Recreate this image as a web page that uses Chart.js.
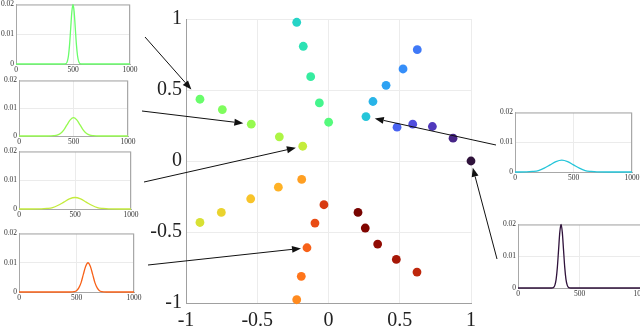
<!DOCTYPE html>
<html>
<head>
<meta charset="utf-8">
<script src="https://cdn.jsdelivr.net/npm/chart.js@4.4.1/dist/chart.umd.min.js"></script>
<style>
  html, body { margin: 0; padding: 0; background: #fff; width: 640px; height: 328px; overflow: hidden; position: relative; }
  canvas { position: absolute; }
</style>
</head>
<body>
<canvas id="main" width="640" height="328" style="left:0;top:0"></canvas>
<script>
// main scatter points, in colour order
const pointX = [1.000, 0.874, 0.729, 0.591, 0.481,
  0.623, 0.523, 0.404, 0.312, 0.263,
  -0.223, -0.177, -0.125, -0.064, 0.001,
  -0.902, -0.745, -0.542, -0.345, -0.181,
  -0.902, -0.752, -0.546, -0.352, -0.188,
  -0.223, -0.191, -0.151, -0.095, -0.032,
  0.621, 0.476, 0.345, 0.258, 0.207]
const pointY = [0.000, 0.161, 0.243, 0.259, 0.238,
  0.784, 0.648, 0.533, 0.419, 0.313,
  0.977, 0.808, 0.594, 0.409, 0.273,
  0.435, 0.362, 0.259, 0.170, 0.104,
  -0.433, -0.362, -0.266, -0.184, -0.130,
  -0.977, -0.812, -0.611, -0.437, -0.308,
  -0.782, -0.693, -0.585, -0.472, -0.362]
const mainTicks = [-1, -0.5, 0, 0.5, 1]

// inset curves
const insetXTicks = [0, 500, 1000]
const insetYTicks = [0, 0.01, 0.02]
const curve1X = [0, 420, 440, 450, 460, 470, 480, 490, 500, 510, 520, 530, 540, 550, 560, 580, 1000]
const curve1Y = [0, 0, 0.0002, 0.0009, 0.0027, 0.0065, 0.0121, 0.0176, 0.0200, 0.0176, 0.0121, 0.0065, 0.0027, 0.0009, 0.0002, 0, 0]
const curve2X = [0, 260, 320, 350, 380, 410, 440, 470, 500, 530, 560, 590, 620, 650, 680, 740, 1000]
const curve2Y = [0, 0, 0.0001, 0.0003, 0.0009, 0.0021, 0.0040, 0.0058, 0.0066, 0.0058, 0.0040, 0.0021, 0.0009, 0.0003, 0.0001, 0, 0]
const curve3X = [0, 100, 200, 250, 300, 350, 400, 450, 500, 550, 600, 650, 700, 750, 800, 900, 1000]
const curve3Y = [0, 0, 0.00004, 0.0002, 0.0005, 0.0013, 0.0024, 0.0035, 0.0040, 0.0035, 0.0024, 0.0013, 0.0005, 0.0002, 0.00004, 0, 0]
const curve4X = [0, 440, 480, 500, 520, 540, 560, 580, 600, 620, 640, 660, 680, 700, 720, 760, 1000]
const curve4Y = [0, 0, 0.0001, 0.0004, 0.0014, 0.0032, 0.0061, 0.0088, 0.0100, 0.0088, 0.0061, 0.0032, 0.0014, 0.0004, 0.0001, 0, 0]
const curve5X = [0, 100, 150, 200, 250, 300, 350, 400, 450, 500, 550, 600, 650, 700, 800, 1000]
const curve5Y = [0, 0.00004, 0.0002, 0.0005, 0.0013, 0.0024, 0.0035, 0.0040, 0.0035, 0.0024, 0.0013, 0.0005, 0.0002, 0.00004, 0, 0]
const curve6X = [0, 270, 290, 300, 310, 320, 330, 340, 350, 360, 370, 380, 390, 400, 410, 430, 1000]
const curve6Y = [0, 0, 0.0002, 0.0009, 0.0027, 0.0065, 0.0121, 0.0176, 0.0200, 0.0176, 0.0121, 0.0065, 0.0027, 0.0009, 0.0002, 0, 0]

Chart.defaults.font.family = "'Liberation Serif', serif"

// turbo colormap (polynomial approximation, ends pulled toward the real turbo ends)
function turbo(t) {
  let r = 0.13572138 + t * (4.61539260 + t * (-42.66032258 + t * (132.13108234 + t * (-152.94239396 + t * 59.28637943))))
  let g = 0.09140261 + t * (2.19418839 + t * (4.84296658 + t * (-14.18503333 + t * (4.27729857 + t * 2.82956604))))
  let b = 0.10667330 + t * (12.64194608 + t * (-60.58204836 + t * (110.36276771 + t * (-89.90310912 + t * 27.34824973))))
  if (t < 0.15) {
    const w = 1 - t / 0.15
    r += w * 0.05; g += w * -0.02; b += w * 0.125
  }
  if (t > 0.85) {
    const w = (t - 0.85) / 0.15
    r += w * -0.094; g += w * -0.035; b += w * 0.012
  }
  const c = v => Math.round(Math.max(0, Math.min(1, v)) * 255)
  return `rgb(${c(r)},${c(g)},${c(b)})`
}
const pointColors = pointX.map((_, i) => turbo(i / (pointX.length - 1)))

// arrows: tail in page pixels, head pointing at a scatter point
const arrowTails = [[145, 37], [142, 111], [144, 182], [148, 265], [496, 145], [497, 259]]
const arrowTargets = [15, 17, 19, 27, 9, 0]
const arrowGaps = [13, 8, 7, 6, 9, 7]

const arrowPlugin = {
  id: 'arrows',
  afterDatasetsDraw(chart) {
    const ctx = chart.ctx
    const xs = chart.scales.x, ys = chart.scales.y
    ctx.save()
    ctx.strokeStyle = '#111'
    ctx.fillStyle = '#111'
    ctx.lineWidth = 1
    arrowTails.forEach((tail, i) => {
      const k = arrowTargets[i]
      const px = xs.getPixelForValue(pointX[k])
      const py = ys.getPixelForValue(pointY[k])
      let dx = tail[0] - px, dy = tail[1] - py
      const len = Math.hypot(dx, dy)
      dx /= len; dy /= len
      const tx = px + dx * arrowGaps[i], ty = py + dy * arrowGaps[i]
      const hl = 9, hw = 3.5
      const bx = tx + dx * hl, by = ty + dy * hl
      ctx.beginPath()
      ctx.moveTo(tail[0], tail[1])
      ctx.lineTo(bx, by)
      ctx.stroke()
      ctx.beginPath()
      ctx.moveTo(tx, ty)
      ctx.lineTo(bx - dy * hw, by + dx * hw)
      ctx.lineTo(bx + dy * hw, by - dx * hw)
      ctx.closePath()
      ctx.fill()
    })
    ctx.restore()
  }
}

new Chart(document.getElementById('main'), {
  type: 'scatter',
  data: {
    datasets: [{
      data: pointX.map((x, i) => ({ x, y: pointY[i] })),
      backgroundColor: pointColors,
      borderWidth: 0,
      pointRadius: 4.4,
      clip: false
    }]
  },
  options: {
    responsive: false,
    animation: false,
    devicePixelRatio: 1,
    layout: { padding: { left: 130, right: 169, top: 19, bottom: 0 } },
    plugins: { legend: { display: false }, tooltip: { enabled: false } },
    scales: {
      x: {
        type: 'linear', min: -1, max: 1,
        afterBuildTicks: s => { s.ticks = mainTicks.map(v => ({ value: v })) },
        afterFit: s => { s.height = 25 },
        grid: { color: '#ececec', drawTicks: false },
        border: { color: '#a0a0a0' },
        ticks: { font: { size: 20 }, color: '#222', padding: 6, maxRotation: 0, callback: v => String(v) }
      },
      y: {
        type: 'linear', min: -1, max: 1,
        afterBuildTicks: s => { s.ticks = mainTicks.map(v => ({ value: v })) },
        afterFit: s => { s.width = 56 },
        grid: { color: '#ececec', drawTicks: false },
        border: { color: '#a0a0a0' },
        ticks: { font: { size: 20 }, color: '#222', padding: 4, callback: v => String(v) }
      }
    }
  },
  plugins: [arrowPlugin]
})

// inset plot boxes (page pixels)
const insetBoxes = [
  { l: 16, t: 4, r: 130, b: 64 },
  { l: 19, t: 80, r: 128, b: 136 },
  { l: 19, t: 151, r: 131, b: 209 },
  { l: 19, t: 233, r: 134, b: 292 },
  { l: 515, t: 112, r: 632, b: 172 },
  { l: 518, t: 224, r: 641, b: 288 }
]
const insetCurves = [[curve1X, curve1Y], [curve2X, curve2Y], [curve3X, curve3Y], [curve4X, curve4Y], [curve5X, curve5Y], [curve6X, curve6Y]]

const boxPlugin = {
  id: 'box',
  beforeDatasetsDraw(chart) {
    const a = chart.chartArea
    const ctx = chart.ctx
    ctx.save()
    ctx.strokeStyle = '#a8a8a8'
    ctx.lineWidth = 1
    ctx.strokeRect(a.left + 0.5, a.top + 0.5, a.right - a.left - 1, a.bottom - a.top)
    ctx.restore()
  }
}

function makeInset(box, xs, ys, color) {
  const padL = 24, padT = 6, padR = 12, padB = 14
  const canvas = document.createElement('canvas')
  canvas.width = (box.r - box.l) + padL + padR
  canvas.height = (box.b - box.t) + padT + padB
  canvas.style.left = (box.l - padL) + 'px'
  canvas.style.top = (box.t - padT) + 'px'
  document.body.appendChild(canvas)
  new Chart(canvas, {
    type: 'line',
    data: {
      datasets: [{
        data: xs.map((x, i) => ({ x, y: ys[i] })),
        borderColor: color,
        borderWidth: 1.3,
        pointRadius: 0,
        cubicInterpolationMode: 'monotone',
        clip: 3,
        fill: false
      }]
    },
    options: {
      responsive: false,
      animation: false,
      devicePixelRatio: 1,
      layout: { padding: { left: 0, top: padT, right: padR, bottom: 0 } },
      plugins: { legend: { display: false }, tooltip: { enabled: false } },
      scales: {
        x: {
          type: 'linear', min: 0, max: 1000,
          afterBuildTicks: s => { s.ticks = insetXTicks.map(v => ({ value: v })) },
          afterFit: s => { s.height = padB },
          grid: { color: '#ebebeb', drawTicks: false },
          border: { color: '#a8a8a8' },
          ticks: { font: { size: 7.5 }, color: '#333', padding: 2, maxRotation: 0, callback: v => String(v) }
        },
        y: {
          type: 'linear', min: 0, max: 0.02,
          afterBuildTicks: s => { s.ticks = insetYTicks.map(v => ({ value: v })) },
          afterFit: s => { s.width = padL },
          grid: { color: '#ebebeb', drawTicks: false },
          border: { color: '#a8a8a8' },
          ticks: { font: { size: 7.5 }, color: '#333', padding: 2, callback: v => String(+v.toFixed(2)) }
        }
      }
    },
    plugins: [boxPlugin]
  })
}

insetBoxes.forEach((box, i) => {
  makeInset(box, insetCurves[i][0], insetCurves[i][1], pointColors[arrowTargets[i]])
})
</script>
</body>
</html>
